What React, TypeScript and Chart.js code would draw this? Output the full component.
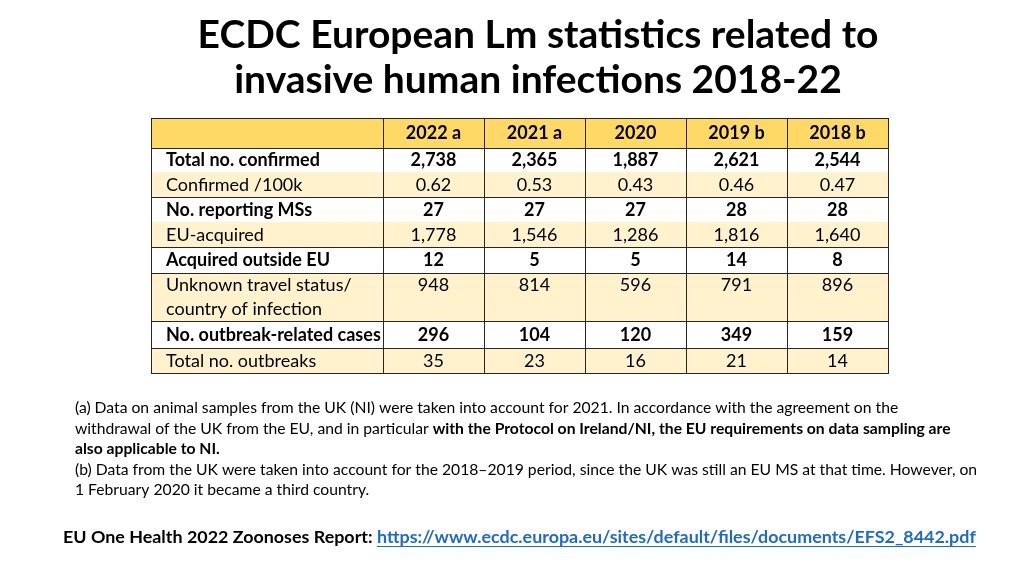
import React, { useEffect, useRef } from "react";
import { Chart, registerables } from "chart.js";

Chart.register(...registerables);

// ---------- content ----------
const TITLE_LINES = ["ECDC European Lm statistics related to", "invasive human infections 2018-22"];
const YEARS = ["2022 a", "2021 a", "2020", "2019 b", "2018 b"];
const ROW_LABELS: string[][] = [
  ["Total no. confirmed"],
  ["Confirmed /100k"],
  ["No. reporting MSs"],
  ["EU-acquired"],
  ["Acquired outside EU"],
  ["Unknown travel status/", "country of infection"],
  ["No. outbreak-related cases"],
  ["Total no. outbreaks"],
];
const BOLD_ROWS = [true, false, true, false, true, false, true, false];

const totalConfirmed = [2738, 2365, 1887, 2621, 2544];
const confirmedPer100k = [0.62, 0.53, 0.43, 0.46, 0.47];
const reportingMSs = [27, 27, 27, 28, 28];
const euAcquired = [1778, 1546, 1286, 1816, 1640];
const acquiredOutsideEU = [12, 5, 5, 14, 8];
const unknownTravel = [948, 814, 596, 791, 896];
const outbreakCases = [296, 104, 120, 349, 159];
const totalOutbreaks = [35, 23, 16, 21, 14];

const fmtInt = (v: number) => v.toLocaleString("en-US");
const fmtDec = (v: number) => v.toFixed(2);
const ROW_VALUES: string[][] = [
  totalConfirmed.map(fmtInt),
  confirmedPer100k.map(fmtDec),
  reportingMSs.map(fmtInt),
  euAcquired.map(fmtInt),
  acquiredOutsideEU.map(fmtInt),
  unknownTravel.map(fmtInt),
  outbreakCases.map(fmtInt),
  totalOutbreaks.map(fmtInt),
];

type Seg = { t: string; b?: boolean };
const FOOTNOTES: Seg[][] = [
  [{ t: "(a) Data on animal samples from the UK (NI) were taken into account for 2021. In accordance with the agreement on the" }],
  [
    { t: "withdrawal of the UK from the EU, and in particular " },
    { t: "with the Protocol on Ireland/NI, the EU requirements on data sampling are", b: true },
  ],
  [{ t: "also applicable to NI.", b: true }],
  [{ t: "(b) Data from the UK were taken into account for the 2018\u20132019 period, since the UK was still an EU MS at that time. However, on" }],
  [{ t: "1 February 2020 it became a third country." }],
];
const SOURCE_LABEL = "EU One Health 2022 Zoonoses Report: ";
const SOURCE_URL = "https://www.ecdc.europa.eu/sites/default/files/documents/EFS2_8442.pdf";

// ---------- layout / style ----------
const FONT = "Lato, 'Open Sans', 'DejaVu Sans', sans-serif";
const COL_WIDTHS = [232, 101, 101, 101, 101, 101];
const ROW_HEIGHTS = [30, 24, 25, 25, 25, 26, 48, 27, 25]; // header + 8 rows
const LINE_ABOVE = [true, true, false, true, false, true, true, true, true];
const HEADER_BG = "#FFD966";
const LIGHT_BG = "#FFF2CC";
const BORDER = "#262626";
const TABLE_FS = 18;
const NOTE_FS = 15.7;
const SRC_FS = 17.9;

const tablePlugin = {
  id: "slideTable",
  afterDraw(chart: any) {
    const { ctx } = chart;
    const xs = chart.scales.x;
    const ys = chart.scales.y;
    const colEdges = [0];
    COL_WIDTHS.forEach((w) => colEdges.push(colEdges[colEdges.length - 1] + w));
    const rowEdges = [0];
    ROW_HEIGHTS.forEach((h) => rowEdges.push(rowEdges[rowEdges.length - 1] + h));
    const px = (v: number) => Math.round(xs.getPixelForValue(v));
    const py = (v: number) => Math.round(ys.getPixelForValue(v));
    const left = px(0);
    const right = px(colEdges[colEdges.length - 1]);
    ctx.save();
    // backgrounds
    for (let r = 0; r < ROW_HEIGHTS.length; r++) {
      const top = py(rowEdges[r]);
      const bot = py(rowEdges[r + 1]);
      let bg = "#FFFFFF";
      if (r === 0) bg = HEADER_BG;
      else if (!BOLD_ROWS[r - 1]) bg = LIGHT_BG;
      ctx.fillStyle = bg;
      ctx.fillRect(left, top, right - left, bot - top);
    }
    // borders
    ctx.strokeStyle = BORDER;
    ctx.lineWidth = 1;
    ctx.beginPath();
    for (let r = 0; r < ROW_HEIGHTS.length; r++) {
      if (!LINE_ABOVE[r]) continue;
      const yy = py(rowEdges[r]) + 0.5;
      ctx.moveTo(left, yy);
      ctx.lineTo(right + 1, yy);
    }
    const bottom = py(rowEdges[rowEdges.length - 1]);
    ctx.moveTo(left, bottom + 0.5);
    ctx.lineTo(right + 1, bottom + 0.5);
    colEdges.forEach((c) => {
      const xx = px(c) + 0.5;
      ctx.moveTo(xx, py(0));
      ctx.lineTo(xx, bottom + 1);
    });
    ctx.stroke();

    // text
    ctx.fillStyle = "#000";
    ctx.textBaseline = "alphabetic";
    const cap = TABLE_FS * 0.36;
    // header
    ctx.font = `bold ${TABLE_FS}px ${FONT}`;
    ctx.textAlign = "center";
    YEARS.forEach((yr, i) => {
      const cx = (px(colEdges[i + 1]) + px(colEdges[i + 2])) / 2;
      const cy = (py(rowEdges[0]) + py(rowEdges[1])) / 2;
      ctx.fillText(yr, cx, cy + cap);
    });
    for (let r = 0; r < ROW_LABELS.length; r++) {
      const top = py(rowEdges[r + 1]);
      const bot = py(rowEdges[r + 2]);
      const lines = ROW_LABELS[r];
      const lh = (bot - top) / lines.length;
      ctx.font = `${BOLD_ROWS[r] ? "bold " : ""}${TABLE_FS}px ${FONT}`;
      ctx.textAlign = "left";
      lines.forEach((ln, k) => {
        ctx.fillText(ln, left + 15, top + lh * (k + 0.5) + cap);
      });
      ctx.textAlign = "center";
      ROW_VALUES[r].forEach((v, i) => {
        const cx = (px(colEdges[i + 1]) + px(colEdges[i + 2])) / 2;
        ctx.fillText(v, cx, top + lh * 0.5 + cap);
      });
    }

    // footnotes
    ctx.textAlign = "left";
    FOOTNOTES.forEach((line, k) => {
      let x = 75;
      const yBase = 413 + k * 20.6;
      line.forEach((s) => {
        ctx.font = `${s.b ? "bold " : ""}${NOTE_FS}px ${FONT}`;
        ctx.fillText(s.t, x, yBase);
        x += ctx.measureText(s.t).width;
      });
    });

    // source line
    ctx.font = `bold ${SRC_FS}px ${FONT}`;
    let sx = 63;
    const sy = 543;
    ctx.fillStyle = "#000";
    ctx.fillText(SOURCE_LABEL, sx, sy);
    sx += ctx.measureText(SOURCE_LABEL).width;
    ctx.fillStyle = "#1F6BC4";
    ctx.fillText(SOURCE_URL, sx, sy);
    const w = ctx.measureText(SOURCE_URL).width;
    ctx.strokeStyle = "#1F6BC4";
    ctx.beginPath();
    ctx.moveTo(sx, sy + 3.5);
    ctx.lineTo(sx + w, sy + 3.5);
    ctx.stroke();
    ctx.restore();
  },
};

export default function App() {
  const ref = useRef<HTMLCanvasElement>(null);
  useEffect(() => {
    document.body.style.margin = "0";
    const canvas = ref.current!;
    const chart = new Chart(canvas, {
      type: "scatter",
      data: { datasets: [] },
      options: {
        responsive: false,
        animation: false,
        layout: { padding: { left: 52, right: 0, top: 0, bottom: 0 } },
        scales: {
          x: { type: "linear", display: false, min: -99, max: 873 },
          y: { type: "linear", display: false, reverse: true, min: 0, max: 458 },
        },
        plugins: {
          legend: { display: false },
          tooltip: { enabled: false },
          title: {
            display: true,
            text: TITLE_LINES,
            color: "#000",
            font: { family: FONT, size: 39, weight: "bold", lineHeight: 1.154 },
            padding: { top: 13, bottom: 15 },
          },
        },
      },
      plugins: [tablePlugin],
    });
    return () => chart.destroy();
  }, []);
  return <canvas ref={ref} width={1024} height={576} style={{ display: "block" }} />;
}
